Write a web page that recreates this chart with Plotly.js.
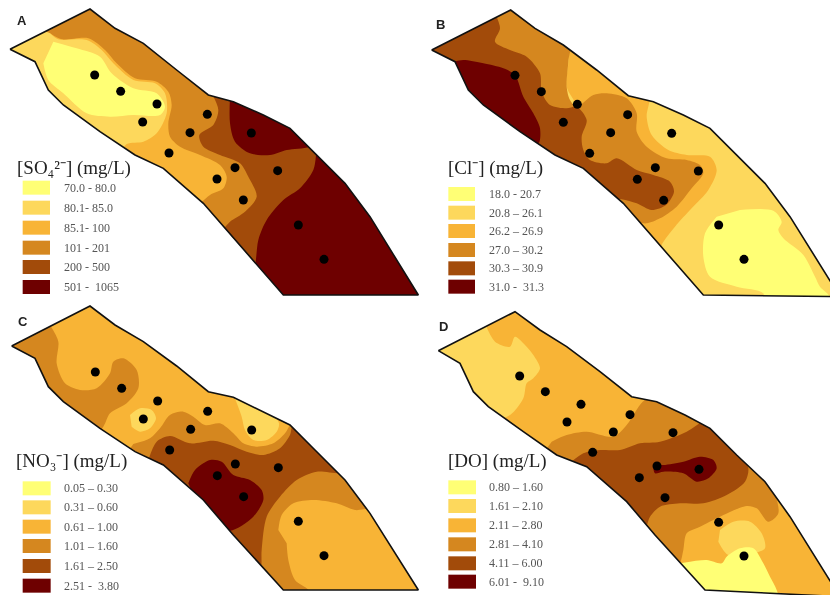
<!DOCTYPE html>
<html><head><meta charset="utf-8">
<script src="https://cdn.plot.ly/plotly-3.0.1.min.js"></script>
<style>html,body{margin:0;padding:0;background:#fff}#c{width:830px;height:595px;filter:blur(0.5px)}</style>
</head><body><div id="c"></div>
<script>
const levelColors = ['#FFFF75','#FDD85C','#F8B436','#D5871F','#A24B0A','#6E0000'];

const boundaryA = [[30,148],[270,27],[345,85],[430,130],[530,210],[625,285],[700,305],[790,345],[870,385],[945,460],[1035,550],[1110,650],[1255,885],[850,885],[700,715],[610,610],[490,505],[405,465],[300,395],[190,315],[145,270],[105,185]];
const boundaryB = [[35,150],[272,30],[345,85],[430,135],[530,210],[625,287],[700,305],[790,345],[870,385],[945,460],[1035,550],[1110,650],[1260,890],[850,885],[700,715],[610,610],[490,505],[405,465],[300,395],[190,315],[145,270],[105,185]];
const boundaryC = [[35,138],[270,18],[345,75],[430,125],[530,198],[625,275],[700,292],[790,335],[870,375],[945,450],[1035,540],[1110,640],[1255,870],[850,870],[700,705],[610,600],[490,495],[405,455],[300,385],[190,305],[145,260],[105,175]];
const boundaryD = [[55,152],[285,35],[360,90],[440,140],[540,215],[635,290],[710,305],[795,345],[870,385],[950,465],[1035,545],[1110,650],[1260,890],[855,870],[705,705],[620,605],[500,500],[410,465],[310,395],[205,320],[160,275],[120,190]];

const stationsA = [[284,225],[362,274],[471,312],[428,366],[622,343],[570,398],[507,459],[754,399],[705,503],[651,537],[833,512],[730,600],[895,675],[972,778]];
const stationsB = [[285,226],[364,275],[472,313],[430,367],[623,344],[572,398],[509,460],[755,400],[706,503],[652,538],[835,513],[731,601],[896,675],[972,778]];
const stationsC = [[286,216],[365,265],[473,303],[430,357],[623,334],[572,388],[509,450],[755,390],[706,492],[652,527],[835,503],[731,590],[895,664],[972,767]];
const stationsD = [[299,228],[376,275],[483,313],[441,366],[630,344],[580,396],[518,457],[759,398],[711,498],[658,533],[837,508],[735,593],[896,667],[972,768]];

// Contour bands: [class index, outline], painted in order
const zonesA = [
 [3,[[-50,-50],[1400,-50],[1400,1000],[-50,1000]]],
 [2,[[150,100],[185,118],[265,115],[315,150],[350,190],[405,235],[470,245],[505,275],[515,315],[505,370],[510,410],[540,440],[600,465],[660,495],[680,530],[670,565],[630,585],[600,610],[540,640],[300,470],[100,320],[-20,148],[100,80]]],
 [1,[[150,100],[175,118],[260,120],[305,150],[340,190],[400,240],[465,250],[495,280],[500,340],[470,400],[430,425],[380,432],[340,480],[100,320],[-20,148],[100,80]]],
 [0,[[160,125],[230,145],[300,170],[335,220],[400,265],[470,280],[495,320],[480,345],[400,345],[330,350],[260,340],[190,280],[145,240],[130,190]]],
 [4,[[635,280],[655,330],[640,375],[598,405],[610,440],[660,465],[720,490],[745,530],[770,590],[735,635],[690,665],[668,690],[640,720],[720,800],[900,1000],[1300,1000],[1300,200],[700,200]]],
 [5,[[690,290],[690,370],[705,425],[750,460],[810,465],[860,450],[930,440],[1000,400],[900,280],[700,260]]],
 [5,[[948,465],[940,510],[900,565],[850,600],[800,660],[775,720],[765,795],[750,830],[850,950],[1300,950],[1300,500],[1000,440]]]
];
const zonesB = [
 [1,[[-50,-50],[1400,-50],[1400,1000],[-50,1000]]],
 [0,[[960,630],[1060,632],[1085,665],[1075,690],[1090,715],[1150,765],[1185,830],[1200,860],[1230,890],[1240,950],[1040,950],[1030,880],[950,860],[870,830],[850,770],[855,700],[890,650]]],
 [2,[[450,120],[445,190],[440,260],[470,320],[480,500],[600,620],[720,770],[725,735],[765,680],[815,625],[865,570],[890,510],[870,470],[800,465],[745,450],[695,405],[680,350],[688,280],[600,220]]],
 [3,[[225,10],[450,100],[445,185],[440,260],[450,300],[470,320],[520,285],[560,280],[620,295],[650,340],[650,395],[680,440],[740,475],[800,480],[840,495],[850,520],[815,565],[770,620],[720,655],[680,670],[650,665],[600,640],[450,540],[0,320],[0,100]]],
 [4,[[225,40],[240,85],[225,125],[270,150],[320,170],[360,220],[365,275],[390,315],[440,325],[470,320],[500,360],[485,410],[490,450],[510,480],[560,490],[590,475],[650,510],[700,525],[750,545],[762,575],[738,615],[695,630],[650,610],[605,598],[560,590],[400,500],[0,300],[0,100],[225,10]]],
 [5,[[100,185],[130,180],[190,190],[250,205],[285,225],[310,290],[340,340],[360,385],[355,430],[300,415],[190,335],[120,280],[60,200]]]
];
const zonesC = [
 [2,[[-50,-50],[1400,-50],[1400,1000],[-50,1000]]],
 [1,[[390,345],[420,325],[455,330],[468,355],[450,385],[420,395],[395,380]]],
 [1,[[695,270],[725,350],[735,390],[760,420],[800,420],[830,395],[837,370],[800,320]]],
 [3,[[150,75],[175,125],[170,190],[195,250],[240,270],[290,265],[330,220],[340,185],[370,175],[410,210],[415,265],[380,310],[330,340],[310,380],[270,420],[100,300],[0,138],[100,50]]],
 [3,[[400,432],[450,415],[480,385],[510,345],[550,335],[580,350],[615,375],[660,370],[700,400],[730,430],[770,440],[820,430],[855,400],[870,375],[900,340],[1040,500],[1120,640],[1000,900],[820,900],[600,650],[450,520],[380,460]]],
 [4,[[445,480],[470,425],[510,408],[570,430],[640,422],[690,435],[740,455],[790,465],[840,445],[870,405],[880,375],[1000,400],[1035,515],[950,515],[890,540],[840,590],[800,650],[785,750],[782,810],[760,840],[600,660],[430,510]]],
 [2,[[835,690],[845,645],[880,610],[940,600],[1010,610],[1065,630],[1120,630],[1300,880],[930,900],[925,870],[885,840],[865,780],[860,730]]],
 [5,[[565,550],[585,510],[630,480],[665,485],[700,525],[750,540],[785,570],[790,600],[760,650],[690,692],[640,670],[590,610]]]
];
const zonesD = [
 [2,[[-50,-50],[1400,-50],[1400,1000],[-50,1000]]],
 [1,[[195,70],[225,125],[270,140],[285,110],[320,140],[340,165],[360,205],[340,235],[320,250],[310,295],[270,345],[200,360],[0,152],[100,40]]],
 [3,[[395,425],[440,405],[500,395],[580,410],[620,375],[668,305],[720,275],[900,340],[1040,520],[1075,640],[1045,665],[1010,625],[980,618],[900,650],[840,680],[800,700],[790,750],[780,790],[760,815],[600,640],[450,520],[370,460]]],
 [4,[[455,485],[490,460],[540,450],[600,450],[660,430],[720,425],[800,395],[850,365],[890,370],[960,465],[985,505],[975,545],[920,585],[850,610],[780,610],[720,620],[690,650],[678,680],[650,700],[560,610],[440,500]]],
 [5,[[705,495],[730,495],[790,485],[840,470],[880,480],[890,505],[865,535],[830,545],[790,520],[730,515],[705,520],[700,505]]],
 [1,[[900,690],[940,665],[990,665],[1025,700],[1035,745],[1000,760],[925,765],[895,725]]],
 [0,[[780,790],[860,780],[905,790],[920,770],[960,745],[1000,745],[1030,790],[1050,830],[1070,870],[1080,920],[850,920],[710,800],[710,790]]]
];

const namesA = ['70.0 - 80.0','80.1- 85.0','85.1- 100','101 - 201','200 - 500','501 -  1065'];
const namesB = ['18.0 - 20.7','20.8 – 26.1','26.2 – 26.9','27.0 – 30.2','30.3 – 30.9','31.0 -  31.3'];
const namesC = ['0.05 – 0.30','0.31 – 0.60','0.61 – 1.00','1.01 – 1.60','1.61 – 2.50','2.51 -  3.80'];
const namesD = ['0.80 – 1.60','1.61 – 2.10','2.11 – 2.80','2.81 – 4.10','4.11 – 6.00','6.01 -  9.10'];

const titleA = '[SO₄²⁻] (mg/L)';
const titleB = '[Cl⁻] (mg/L)';
const titleC = '[NO₃⁻] (mg/L)';
const titleD = '[DO] (mg/L)';

// Layout of each panel, in the panel's own map units
const panels = [
 {id:'',  tag:'A', bnd:boundaryA, st:stationsA, zones:zonesA, names:namesA, title:titleA, dx:[0,420/830],   dy:[1-300/595,1], rx:1260, ry:900, tagAt:[65,62], titleAt:[222,505], sw:[68,150],  lx:185, rows:[563,623,683,743,801,861]},
 {id:'2', tag:'B', bnd:boundaryB, st:stationsB, zones:zonesB, names:namesB, title:titleB, dx:[420/830,1],   dy:[1-300/595,1], rx:1230, ry:900, tagAt:[62,72], titleAt:[228,505], sw:[85,165],  lx:200, rows:[582,638,693,750,805,860]},
 {id:'3', tag:'C', bnd:boundaryC, st:stationsC, zones:zonesC, names:namesC, title:titleC, dx:[0,420/830],   dy:[0,295/595],   rx:1260, ry:885, tagAt:[70,65], titleAt:[215,483], sw:[68,152],  lx:185, rows:[565,622,680,738,798,857]},
 {id:'4', tag:'D', bnd:boundaryD, st:stationsD, zones:zonesD, names:namesD, title:titleD, dx:[420/830,1],   dy:[0,295/595],   rx:1230, ry:885, tagAt:[70,78], titleAt:[232,483], sw:[85,168],  lx:200, rows:[562,618,676,733,790,845]}
];

const traces = [], annotations = [], shapes = [];
const layout = {width:830,height:595,margin:{l:0,r:0,t:0,b:0},paper_bgcolor:'#fff',plot_bgcolor:'#fff',showlegend:false,hovermode:false};
const serif = '"Liberation Serif", serif';

panels.forEach(p => {
  const xa = 'x'+p.id, ya = 'y'+p.id;
  layout['xaxis'+p.id] = {domain:p.dx, range:[0,p.rx], visible:false, fixedrange:true, anchor:ya};
  layout['yaxis'+p.id] = {domain:p.dy, range:[p.ry,0], visible:false, fixedrange:true, anchor:xa};

  p.zones.forEach((z,i) => traces.push({
    x:z[1].map(q=>q[0]), y:z[1].map(q=>q[1]), xaxis:xa, yaxis:ya, type:'scatter', mode:'lines', fill:'toself',
    fillcolor:levelColors[z[0]], line:{width:0, shape: i===0?'linear':'spline', smoothing:0.85}, hoverinfo:'skip'
  }));

  // white surround so the bands stop at the study-area outline (hole wound opposite to the frame)
  const b = p.bnd, c = [[-60,-60],[1400,-60],[1400,1000],[-60,1000],[-60,-60]];
  const back = b.slice().reverse();
  const mask = c.concat(back, [back[0]], [[-60,-60]]);
  traces.push({x:mask.map(q=>q[0]), y:mask.map(q=>q[1]), xaxis:xa, yaxis:ya, type:'scatter', mode:'lines', fill:'toself',
    fillcolor:'#fff', line:{width:0}, hoverinfo:'skip'});

  const ring = b.concat([b[0]]);
  traces.push({x:ring.map(q=>q[0]), y:ring.map(q=>q[1]), xaxis:xa, yaxis:ya, type:'scatter', mode:'lines',
    line:{color:'#111',width:1.6}, hoverinfo:'skip'});
  traces.push({x:p.st.map(q=>q[0]), y:p.st.map(q=>q[1]), xaxis:xa, yaxis:ya, type:'scatter', mode:'markers',
    marker:{color:'#000',size:9}, hoverinfo:'skip'});

  annotations.push({xref:xa,yref:ya,x:p.tagAt[0],y:p.tagAt[1],text:'<b>'+p.tag+'</b>',showarrow:false,
    font:{family:'"Liberation Sans", sans-serif',size:13,color:'#222'}});
  annotations.push({xref:xa,yref:ya,x:p.titleAt[0],y:p.titleAt[1],text:p.title,showarrow:false,
    font:{family:serif,size:19,color:'#222'}});
  p.names.forEach((n,i) => {
    shapes.push({type:'rect',xref:xa,yref:ya,x0:p.sw[0],x1:p.sw[1],y0:p.rows[i]-21,y1:p.rows[i]+21,
      fillcolor:levelColors[i],line:{width:0}});
    annotations.push({xref:xa,yref:ya,x:p.lx,y:p.rows[i],text:n,showarrow:false,xanchor:'left',
      font:{family:serif,size:12,color:'#555'}});
  });
});
layout.annotations = annotations;
layout.shapes = shapes;
Plotly.newPlot('c',traces,layout,{displayModeBar:false,staticPlot:true});
</script></body></html>
